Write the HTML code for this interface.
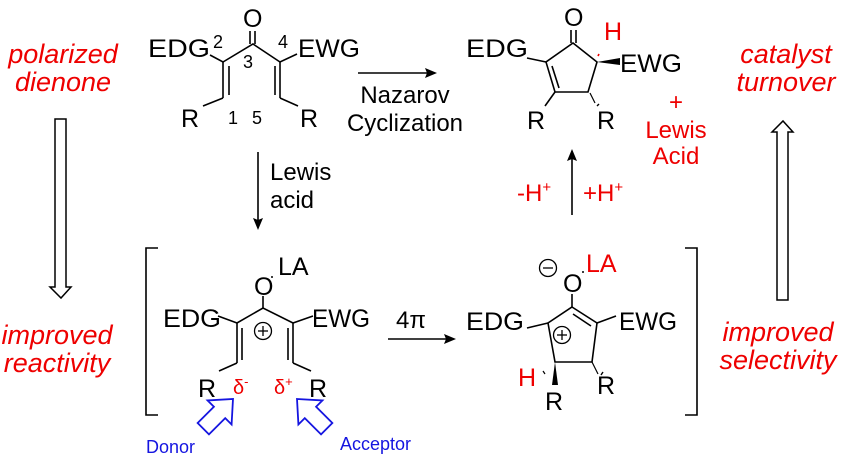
<!DOCTYPE html>
<html><head><meta charset="utf-8"><style>
html,body{margin:0;padding:0;background:#fff;}
svg{display:block;}
text{font-family:"Liberation Sans",Arial,sans-serif;}
</style></head><body>
<svg width="841" height="458" viewBox="0 0 841 458" xmlns="http://www.w3.org/2000/svg">
<g font-size="23" fill="#000">
<!-- side labels -->
<g fill="#e00" font-style="italic" font-size="27" text-anchor="middle">
<text x="63" y="63">polarized</text>
<text x="63" y="91">dienone</text>
<text x="57" y="344">improved</text>
<text x="57" y="372">reactivity</text>
<text x="786" y="63">catalyst</text>
<text x="786" y="91">turnover</text>
<text x="778" y="341">improved</text>
<text x="778" y="369">selectivity</text>
</g>
<!-- hollow arrows -->
<path d="M55,119 H66 V287 H71 L61,298 L50,287 H55 Z" fill="none" stroke="#000" stroke-width="1.5"/>
<path d="M777,300 H788 V132 H793 L783,121 L772,132 H777 Z" fill="none" stroke="#000" stroke-width="1.5"/>

<!-- top left dienone -->
<g stroke="#000" stroke-width="1.6" fill="none">
<line x1="250" y1="31" x2="250" y2="44"/><line x1="255" y1="31" x2="255" y2="44"/>
<polyline points="210,55 223,62 253,44 280,62 297,54"/>
<line x1="223" y1="62" x2="223" y2="98"/><line x1="229" y1="66" x2="229" y2="95"/>
<line x1="280" y1="62" x2="280" y2="98"/><line x1="275" y1="66" x2="275" y2="95"/>
<line x1="223" y1="98" x2="203" y2="106"/><line x1="280" y1="98" x2="298" y2="106"/>
</g>
<text x="243" y="27" font-size="25">O</text>
<text x="148" y="57" font-size="25" textLength="62" lengthAdjust="spacingAndGlyphs">EDG</text>
<text x="298" y="57" font-size="25" textLength="62" lengthAdjust="spacingAndGlyphs">EWG</text>
<text x="181" y="127" font-size="25">R</text>
<text x="300" y="127" font-size="25">R</text>
<g font-size="18"><text x="213" y="48">2</text><text x="243" y="68">3</text><text x="278" y="48">4</text><text x="228" y="124">1</text><text x="252" y="124">5</text></g>

<!-- Nazarov arrow -->
<line x1="358" y1="73" x2="428" y2="73" stroke="#000" stroke-width="1.6"/>
<path d="M437,73 L425,68 L427,73 L425,78 Z"/>
<text x="405" y="103" text-anchor="middle" font-size="24">Nazarov</text>
<text x="405" y="131" text-anchor="middle" font-size="24">Cyclization</text>

<!-- top right product -->
<g stroke="#000" stroke-width="1.6" fill="none">
<line x1="571" y1="30" x2="571" y2="43"/><line x1="576" y1="30" x2="576" y2="43"/>
<polygon points="573,43 597,62 588,92 555,92 546,62" />
<line x1="552" y1="66" x2="559" y2="88"/>
<line x1="527" y1="58" x2="546" y2="62"/>
<line x1="555" y1="92" x2="545" y2="106"/>
</g>
<path d="M597,62 L620,58 L620,65 Z"/>
<line x1="598" y1="56" x2="599" y2="54" stroke="#e00" stroke-width="1.6"/>
<line x1="590" y1="93" x2="595" y2="103" stroke="#000" stroke-width="1.2"/>
<line x1="597" y1="106" x2="599" y2="104" stroke="#000" stroke-width="1.4"/>
<text x="564" y="26" font-size="25">O</text>
<text x="466" y="57" font-size="25" textLength="62" lengthAdjust="spacingAndGlyphs">EDG</text>
<text x="620" y="72" font-size="25" textLength="62" lengthAdjust="spacingAndGlyphs">EWG</text>
<text x="604" y="40" fill="#e00" font-size="25">H</text>
<text x="527" y="129" font-size="25">R</text>
<text x="597" y="129" font-size="25">R</text>
<g fill="#e00" text-anchor="middle" font-size="24"><text x="676" y="110">+</text><text x="676" y="138">Lewis</text><text x="676" y="164">Acid</text></g>

<!-- Lewis acid arrow -->
<line x1="258" y1="152" x2="258" y2="221" stroke="#000" stroke-width="1.6"/>
<path d="M258,230 L253,218 L258,220 L263,218 Z"/>
<text x="270" y="180" font-size="24">Lewis</text>
<text x="270" y="208" font-size="24">acid</text>

<!-- up arrow -->
<line x1="572" y1="215" x2="572" y2="158" stroke="#000" stroke-width="1.6"/>
<path d="M572,149 L567,161 L572,159 L577,161 Z"/>
<text x="517" y="201" fill="#e00" font-size="24">-H<tspan font-size="15" dy="-9">+</tspan></text>
<text x="583" y="201" fill="#e00" font-size="24">+H<tspan font-size="15" dy="-9">+</tspan></text>

<!-- brackets -->
<polyline points="158,248 146,248 146,415 158,415" fill="none" stroke="#000" stroke-width="1.6"/>
<polyline points="685,248 697,248 697,415 685,415" fill="none" stroke="#000" stroke-width="1.6"/>

<!-- left intermediate -->
<g stroke="#000" stroke-width="1.6" fill="none">
<line x1="263" y1="296" x2="263" y2="308"/>
<polyline points="218,316 237,323 263,308 293,323 313,316"/>
<line x1="237" y1="323" x2="237" y2="363"/><line x1="242" y1="328" x2="242" y2="360"/>
<line x1="293" y1="323" x2="293" y2="363"/><line x1="288" y1="328" x2="288" y2="360"/>
<line x1="237" y1="363" x2="219" y2="371"/><line x1="293" y1="363" x2="311" y2="371"/>
<circle cx="263" cy="331" r="8.5" stroke-width="1.3"/>
<line x1="258" y1="331" x2="268" y2="331" stroke-width="1.3"/><line x1="263" y1="326" x2="263" y2="336" stroke-width="1.3"/>
</g>
<circle cx="272" cy="277" r="1" />
<text x="254" y="295" font-size="25">O</text>
<text x="278" y="275" font-size="25">LA</text>
<text x="163" y="327" font-size="25" textLength="58" lengthAdjust="spacingAndGlyphs">EDG</text>
<text x="312" y="327" font-size="25" textLength="58" lengthAdjust="spacingAndGlyphs">EWG</text>
<text x="198" y="397" font-size="25">R</text>
<text x="309" y="397" font-size="25">R</text>
<text x="233" y="394" fill="#e00" font-family="Liberation Serif" font-size="20">δ<tspan font-size="13" dy="-8">-</tspan></text>
<text x="274" y="394" fill="#e00" font-family="Liberation Serif" font-size="20">δ<tspan font-size="13" dy="-8">+</tspan></text>
<!-- blue hollow arrows -->
<g fill="none" stroke="#1515e0" stroke-width="1.8">
<path transform="translate(233,399) rotate(45)" d="M0,0 L17,19 L8,19 L8,42 L-8,42 L-8,19 L-17,19 Z"/>
<path transform="translate(297,399) rotate(-45)" d="M0,0 L17,19 L8,19 L8,42 L-8,42 L-8,19 L-17,19 Z"/>
</g>
<text x="146" y="453" fill="#1515e0" font-size="18">Donor</text>
<text x="340" y="450" fill="#1515e0" font-size="18">Acceptor</text>

<!-- 4pi arrow -->
<line x1="388" y1="339" x2="447" y2="339" stroke="#000" stroke-width="1.6"/>
<path d="M456,339 L444,334 L446,339 L444,344 Z"/>
<text x="396" y="328" font-size="24">4π</text>

<!-- right intermediate -->
<g stroke="#000" stroke-width="1.6" fill="none">
<line x1="572" y1="294" x2="572" y2="307"/>
<polygon points="572,307 597,323 592,362 555,362 548,323"/>
<line x1="573" y1="314" x2="591" y2="326"/>
<line x1="527" y1="328" x2="548" y2="323"/>
<line x1="597" y1="323" x2="616" y2="316"/>
<circle cx="562" cy="335" r="8.5" stroke-width="1.3"/>
<line x1="557" y1="335" x2="567" y2="335" stroke-width="1.3"/><line x1="562" y1="330" x2="562" y2="340" stroke-width="1.3"/>
<circle cx="548" cy="268" r="8.5" stroke-width="1.3"/>
<line x1="543" y1="268" x2="553" y2="268" stroke-width="1.3"/>
<line x1="592" y1="362" x2="598" y2="374" stroke-width="1.2"/>
<line x1="543" y1="371" x2="545" y2="374" stroke-width="1.2"/>
</g>
<path d="M555,362 L552,385 L558,385 Z"/>
<line x1="601" y1="375" x2="603" y2="372" stroke="#000" stroke-width="1.4"/>
<circle cx="583" cy="272" r="1"/>
<text x="563" y="292" font-size="25">O</text>
<text x="586" y="272" fill="#e00" font-size="25">LA</text>
<text x="466" y="330" font-size="25" textLength="58" lengthAdjust="spacingAndGlyphs">EDG</text>
<text x="619" y="330" font-size="25" textLength="58" lengthAdjust="spacingAndGlyphs">EWG</text>
<text x="518" y="386" fill="#e00" font-size="25">H</text>
<text x="545" y="410" font-size="25">R</text>
<text x="597" y="394" font-size="25">R</text>
</g>
</svg>
</body></html>
